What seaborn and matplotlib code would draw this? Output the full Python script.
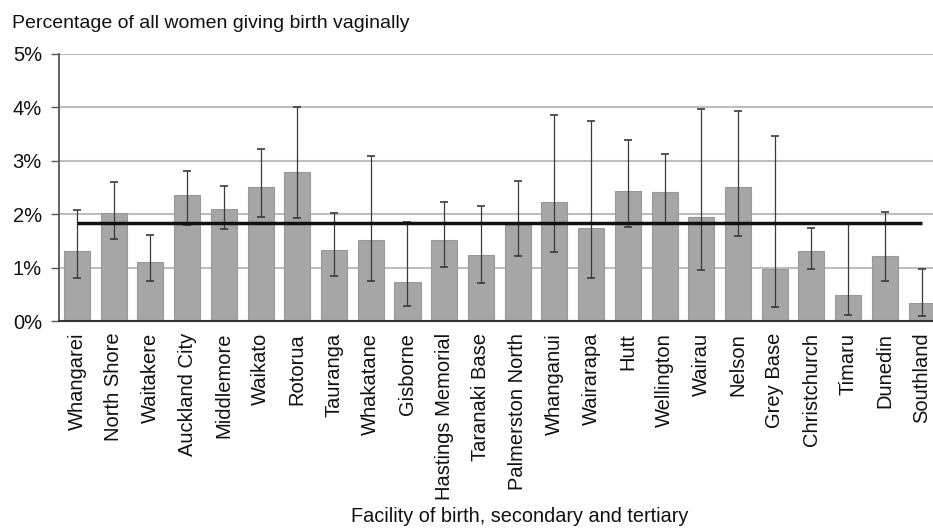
import numpy as np
import pandas as pd
import matplotlib
matplotlib.use("Agg")
import matplotlib.pyplot as plt
import seaborn as sns
from matplotlib.ticker import FuncFormatter

# Facilities and rates (percent), with 95% interval bounds
facilities = ["Whangarei", "North Shore", "Waitakere", "Auckland City", "Middlemore",
              "Waikato", "Rotorua", "Tauranga", "Whakatane", "Gisborne",
              "Hastings Memorial", "Taranaki Base", "Palmerston North", "Whanganui",
              "Wairarapa", "Hutt", "Wellington", "Wairau", "Nelson", "Grey Base",
              "Christchurch", "Timaru", "Dunedin", "Southland"]
rate = [1.31, 2.02, 1.10, 2.36, 2.10, 2.51, 2.79, 1.32, 1.51, 0.73,
        1.51, 1.24, 1.79, 2.23, 1.74, 2.44, 2.42, 1.94, 2.51, 0.98,
        1.31, 0.49, 1.22, 0.34]
ci_low = [0.80, 1.53, 0.74, 1.79, 1.73, 1.94, 1.92, 0.84, 0.74, 0.28,
          1.01, 0.71, 1.22, 1.29, 0.80, 1.76, 1.84, 0.95, 1.59, 0.26,
          0.98, 0.12, 0.74, 0.10]
ci_high = [2.07, 2.61, 1.61, 2.81, 2.53, 3.22, 4.00, 2.02, 3.08, 1.86,
           2.23, 2.15, 2.62, 3.86, 3.75, 3.38, 3.13, 3.96, 3.93, 3.46,
           1.74, 1.82, 2.04, 0.97]
national_mean = 1.83

df = pd.DataFrame({"facility": facilities, "rate": rate,
                   "low": ci_low, "high": ci_high})

sns.set_style("white")
plt.rcParams['font.family'] = ['Liberation Sans', 'DejaVu Sans']

fig = plt.figure(figsize=(9.33, 5.28), dpi=100)
ax = fig.add_axes([0.0628, 0.392, 0.9447, 0.506])

sns.barplot(data=df, x="facility", y="rate", color="#a6a6a6", saturation=1,
            width=0.71, edgecolor="#999999", linewidth=0.8, ax=ax, zorder=2)

pos = np.arange(len(df))
ax.errorbar(pos, df["rate"],
            yerr=[df["rate"] - df["low"], df["high"] - df["rate"]],
            fmt="none", ecolor="#3a3a3a", elinewidth=0.9, capsize=3,
            capthick=1.2, zorder=3)

# national average line
ax.hlines(national_mean, pos[0], pos[-1], color="#111111", linewidth=2.5, zorder=4)

ax.set_ylim(0, 5)
ax.set_xlim(-0.5, len(df) - 0.5)
ax.set_yticks(range(0, 6))
ax.yaxis.set_major_formatter(FuncFormatter(lambda v, p: f"{int(v)}%"))
ax.yaxis.grid(True, color="#bdbdbd", linewidth=1.5, zorder=0)
ax.set_axisbelow(True)

for s in ["top", "right"]:
    ax.spines[s].set_visible(False)
ax.spines["left"].set_color("#555555")
ax.spines["left"].set_linewidth(1.3)
ax.spines["bottom"].set_color("#333333")
ax.spines["bottom"].set_linewidth(1.5)

ax.tick_params(axis="y", left=True, length=6, width=1, color="#555555",
               labelsize=14.5, pad=6, labelcolor="#111111")
ax.tick_params(axis="x", bottom=False, labelsize=14.5, pad=5, labelcolor="#111111")
plt.setp(ax.get_xticklabels(), rotation=90, ha="center", va="top")

ax.set_xlabel("")
ax.set_ylabel("")

fig.text(12 / 933, 1 - 28 / 528, "Percentage of all women giving birth vaginally",
         fontsize=14, color="#111111", ha="left", va="baseline")
fig.text(688 / 933, 1 - 522 / 528, "Facility of birth, secondary and tertiary",
         fontsize=14.3, color="#111111", ha="right", va="baseline")

fig.savefig("out.png", dpi=100)
